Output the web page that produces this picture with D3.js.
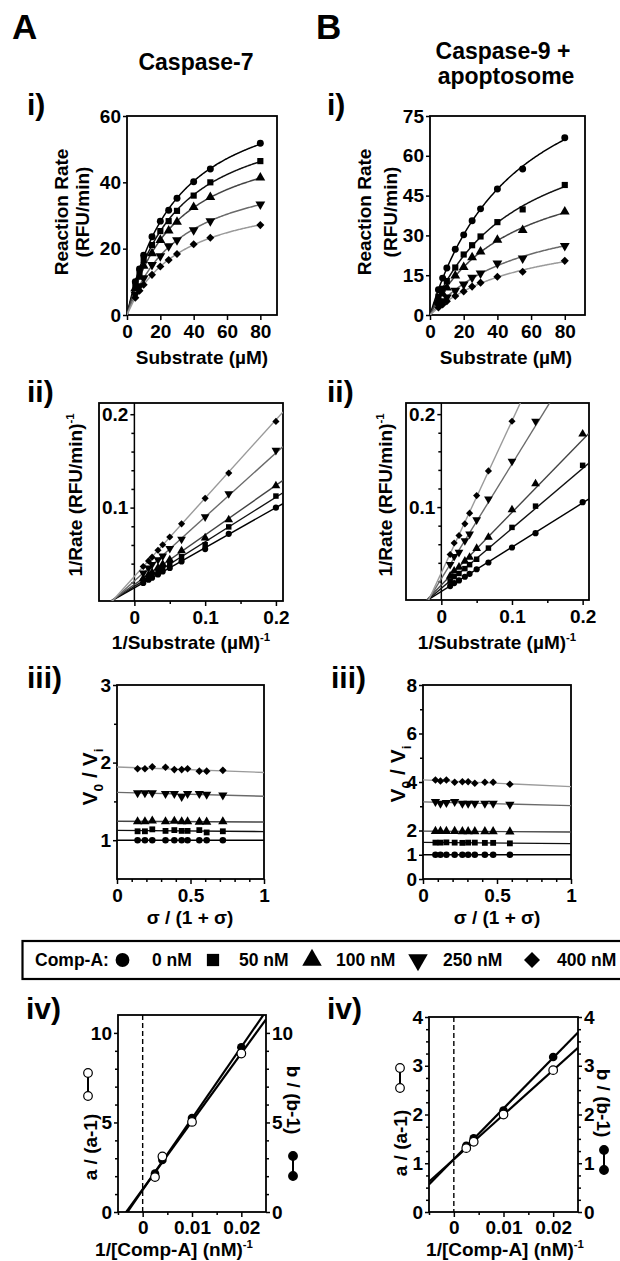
<!DOCTYPE html>
<html><head><meta charset="utf-8">
<script src="https://cdn.jsdelivr.net/npm/d3@7"></script>
<style>
body{margin:0;background:#fff}
svg{display:block}
text{font-family:"Liberation Sans",Arial,Helvetica,sans-serif;font-weight:bold;fill:#000}
</style>
</head><body>
<svg id="c" width="620" height="1261"></svg>
<script>
// ---------------- DATA ----------------
const inhibitorConc = [0, 50, 100, 250, 400];            // nM (legend)
const legendLabels = ["0 nM", "50 nM", "100 nM", "250 nM", "400 nM"];

// Panel A (Caspase-7): substrate (µM) and reaction rates (RFU/min)
const substrateA = [5, 7.5, 10, 15, 20, 25, 30, 40, 50, 80];
const rateA0   = [10.0, 13.9, 18.0, 23.6, 28.3, 31.6, 35.2, 40.2, 44.0, 51.8];
const rateA50  = [8.9, 12.6, 16.6, 21.1, 25.3, 28.3, 31.4, 36.0, 40.0, 46.4];
const rateA100 = [8.1, 11.5, 14.8, 18.6, 22.6, 25.4, 28.1, 32.5, 35.5, 41.4];
const rateA250 = [6.2, 8.7, 11.1, 15.1, 17.8, 20.8, 22.6, 25.6, 28.3, 33.4];
const rateA400 = [5.2, 7.3, 9.1, 12.1, 14.6, 16.6, 18.4, 21.3, 23.3, 27.1];

// Panel B (Caspase-9 + apoptosome)
const substrateB = [5, 7.5, 10, 15, 20, 25, 30, 40, 55, 80];
const rateB0   = [9.5, 13.9, 17.7, 24.8, 30.2, 35.5, 40.0, 47.5, 55.0, 66.8];
const rateB50  = [6.9, 9.9, 12.8, 17.9, 22.8, 26.3, 29.6, 35.0, 39.8, 49.0];
const rateB100 = [5.6, 8.0, 10.3, 14.8, 18.0, 21.7, 23.9, 28.3, 32.0, 38.9];
const rateB250 = [3.6, 5.2, 6.7, 9.2, 11.6, 14.1, 15.7, 19.5, 21.4, 26.1];
const rateB400 = [2.8, 4.0, 5.2, 7.2, 8.9, 10.7, 12.2, 14.4, 16.3, 20.4];

// iii) sigma/(1+sigma) and V0/Vi
const sigmaFracA = [0.14, 0.19, 0.24, 0.33, 0.39, 0.44, 0.48, 0.56, 0.61, 0.72];
const ratioA0   = [1, 1, 1, 1, 1, 1, 1, 1, 1, 1];
const ratioA50  = [1.115, 1.115, 1.14, 1.12, 1.13, 1.12, 1.12, 1.13, 1.10, 1.115];
const ratioA100 = [1.24, 1.24, 1.25, 1.24, 1.245, 1.24, 1.24, 1.235, 1.235, 1.24];
const ratioA250 = [1.61, 1.61, 1.61, 1.60, 1.60, 1.56, 1.60, 1.60, 1.59, 1.58];
const ratioA400 = [1.92, 1.92, 1.945, 1.94, 1.91, 1.91, 1.92, 1.89, 1.89, 1.90];

const sigmaFracB = [0.084, 0.118, 0.158, 0.214, 0.266, 0.305, 0.35, 0.418, 0.474, 0.587];
const ratioB0   = [1, 1, 1, 1, 1, 1, 1, 1, 1, 1];
const ratioB50  = [1.50, 1.50, 1.51, 1.50, 1.49, 1.50, 1.50, 1.49, 1.49, 1.47];
const ratioB100 = [1.97, 1.97, 1.97, 1.97, 1.96, 1.96, 1.96, 1.96, 1.96, 1.95];
const ratioB250 = [3.19, 3.12, 3.15, 3.19, 3.12, 3.12, 3.12, 3.12, 3.12, 3.08];
const ratioB400 = [4.08, 4.04, 4.08, 3.99, 4.01, 4.01, 3.95, 3.99, 3.99, 3.91];

// iv) replots vs 1/[Comp-A]
const compAConc = [400, 250, 100, 50];   // nM
const aRatioA = [1.95, 3.1, 5.03, 8.85];  // a/(a-1), open
const bRatioA = [2.15, 2.9, 5.25, 9.2];   // b/(b-1), filled
const aRatioB = [1.31, 1.44, 2.0, 2.91];
const bRatioB = [1.36, 1.51, 2.08, 3.18];

// tick labels
const ticksAiX = [0, 20, 40, 60, 80], ticksAiY = [0, 20, 40, 60];
const ticksBiX = [0, 20, 40, 60, 80], ticksBiY = [0, 15, 30, 45, 60, 75];
const ticksIIX = [0, 0.1, 0.2], ticksIIY = [0.1, 0.2];
const ticksIIIX = [0, 0.5, 1];
const ticksAiiiY = [1, 2, 3], ticksBiiiY = [0, 1, 2, 4, 6, 8];
const ticksIVX = [0, 0.01, 0.02];
const ticksAivY = [0, 5, 10], ticksBivY = [0, 1, 2, 3, 4];

// ---------------- STYLE ----------------
const lineColors = ["#000", "#111", "#444", "#6a6a6a", "#9a9a9a"];
const svg = d3.select("#c");
let clipN = 0;
const TFS = 19;   // tick font size
const LFS = 19;   // axis title font size

const SYM = [
  {type: d3.symbolCircle, rot: 0, s: 1.0},
  {type: d3.symbolSquare, rot: 0, s: 1.0},
  {type: d3.symbolTriangle, rot: 0, s: 1.1},
  {type: d3.symbolTriangle, rot: 180, s: 1.1},
  {type: d3.symbolSquare, rot: 45, s: 0.85}
];
function marker(g, i, x, y, size) {
  const s = SYM[i];
  g.append("path").attr("d", d3.symbol().type(s.type).size(size * s.s)())
    .attr("transform", `translate(${x},${y}) rotate(${s.rot})`).attr("fill", "#000");
}

function fitMM(S, v) {
  let best = {sse: Infinity};
  for (let K = 1; K <= 400; K += 0.1) {
    let sfv = 0, sff = 0;
    S.forEach((s, i) => { const f = s / (K + s); sfv += f * v[i]; sff += f * f; });
    const V = sfv / sff;
    let sse = 0;
    S.forEach((s, i) => { const r = v[i] - V * s / (K + s); sse += r * r; });
    if (sse < best.sse) best = {sse, K, V};
  }
  return best;
}
function linreg(xs, ys) {
  const mx = d3.mean(xs), my = d3.mean(ys);
  let sxy = 0, sxx = 0;
  xs.forEach((v, i) => { sxy += (v - mx) * (ys[i] - my); sxx += (v - mx) * (v - mx); });
  const b = sxy / sxx;
  return {b, a: my - b * mx};
}

function panel(c) {
  const g = svg.append("g");
  const x = d3.scaleLinear().domain(c.xd).range([c.L, c.R]);
  const y = d3.scaleLinear().domain(c.yd).range([c.B, c.T]);
  const id = "clip" + (clipN++);
  svg.append("clipPath").attr("id", id).append("rect")
    .attr("x", c.L).attr("y", c.T).attr("width", c.R - c.L).attr("height", c.B - c.T);
  const fs = c.fs || TFS;
  const style = (a) => {
    a.select(".domain").remove();
    a.selectAll("line").attr("stroke", "#000").attr("stroke-width", 1.5);
    a.style("font-size", fs + "px").attr("font-family", null);
  };
  const xa = g.append("g").attr("transform", `translate(0,${c.B})`)
    .call(d3.axisBottom(x).tickValues(c.xMajor).tickSize(5).tickPadding(c.xPad || 5).tickFormat(c.xFmt));
  style(xa);
  if (c.xMinor) {
    const xm = g.append("g").attr("transform", `translate(0,${c.B})`)
      .call(d3.axisBottom(x).tickValues(c.xMinor).tickSize(3).tickFormat(""));
    style(xm);
  }
  const yx = c.yAt0 ? x(0) : c.L;
  const ya = g.append("g").attr("transform", `translate(${yx},0)`)
    .call(d3.axisLeft(y).tickValues(c.yMajor).tickSize(4).tickPadding(2).tickFormat(c.yFmt));
  style(ya);
  if (c.yMinor) {
    const ym = g.append("g").attr("transform", `translate(${yx},0)`)
      .call(d3.axisLeft(y).tickValues(c.yMinor).tickSize(3).tickFormat(""));
    style(ym);
  }
  if (c.yAt0) {
    g.append("line").attr("x1", yx).attr("x2", yx).attr("y1", c.T).attr("y2", c.B)
      .attr("stroke", "#000").attr("stroke-width", 1.5);
  }
  if (c.right) {
    const ra = g.append("g").attr("transform", `translate(${c.R},0)`)
      .call(d3.axisRight(y).tickValues(c.yMajor).tickSize(4).tickPadding(2).tickFormat(c.yFmt));
    style(ra);
    if (c.yMinor) {
      const rm = g.append("g").attr("transform", `translate(${c.R},0)`)
        .call(d3.axisRight(y).tickValues(c.yMinor).tickSize(3).tickFormat(""));
      style(rm);
    }
  }
  g.append("rect").attr("x", c.L).attr("y", c.T).attr("width", c.R - c.L).attr("height", c.B - c.T)
    .attr("fill", "none").attr("stroke", "#000").attr("stroke-width", 1.8);
  const plot = g.append("g").attr("clip-path", `url(#${id})`);
  return {g, x, y, plot};
}

function label(x, y, txt, fs, rot, anchor) {
  return svg.append("text").attr("transform", `translate(${x},${y}) rotate(${rot || 0})`)
    .attr("text-anchor", anchor || "middle").attr("dy", "0.35em").style("font-size", fs + "px").text(txt);
}
function supLabel(x, y, main, sup, fs, rot) {
  const t = svg.append("text").attr("transform", `translate(${x},${y}) rotate(${rot || 0})`)
    .attr("text-anchor", "middle").attr("dy", "0.35em").style("font-size", fs + "px");
  t.append("tspan").text(main);
  t.append("tspan").attr("dy", -fs * 0.4).style("font-size", (fs * 0.6) + "px").text(sup);
  return t;
}
function vLabel(x, y, fs) {
  const t = svg.append("text").attr("transform", `translate(${x},${y}) rotate(-90)`)
    .attr("text-anchor", "middle").attr("dy", "0.35em").style("font-size", fs + "px");
  t.append("tspan").text("V");
  t.append("tspan").attr("dy", fs * 0.25).style("font-size", (fs * 0.65) + "px").text("0");
  t.append("tspan").attr("dy", -fs * 0.25).text(" / V");
  t.append("tspan").attr("dy", fs * 0.25).style("font-size", (fs * 0.65) + "px").text("i");
  return t;
}
const fmtInt = d => String(d);
const fmtDec = d => d === 0 ? "0" : String(d);

// ---------------- HEADERS ----------------
label(12, 27, "A", 35, 0, "start");
label(316, 27, "B", 35, 0, "start");
label(196, 62, "Caspase-7", 23);
label(503, 51, "Caspase-9 +", 23);
label(506, 76, "apoptosome", 23);
[["i)", 27, 104], ["ii)", 27, 391], ["iii)", 27, 677], ["iv)", 26, 1008]].forEach(d => label(d[1], d[2], d[0], 30, 0, "start"));
[["i)", 327, 104], ["ii)", 327, 391], ["iii)", 331, 677], ["iv)", 327, 1008]].forEach(d => label(d[1], d[2], d[0], 30, 0, "start"));

// ---------------- i) Michaelis-Menten ----------------
function drawMM(c, S, rates) {
  const p = panel(c);
  rates.forEach((v, k) => {
    const f = fitMM(S, v);
    const curve = d3.range(0, 80.01, 0.5).map(s => [s, f.V * s / (f.K + s)]);
    p.plot.append("path").attr("d", d3.line().x(d => p.x(d[0])).y(d => p.y(d[1]))(curve))
      .attr("fill", "none").attr("stroke", lineColors[k]).attr("stroke-width", 1.5);
  });
  rates.forEach((v, k) => v.forEach((r, j) => marker(p.g, k, p.x(S[j]), p.y(r), 38)));
  return p;
}
const ratesA = [rateA0, rateA50, rateA100, rateA250, rateA400];
const ratesB = [rateB0, rateB50, rateB100, rateB250, rateB400];
drawMM({L: 127, R: 277, T: 116, B: 315, xd: [0, 90], yd: [0, 60], xMajor: ticksAiX, yMajor: ticksAiY, xFmt: fmtInt, yFmt: fmtInt}, substrateA, ratesA);
drawMM({L: 430, R: 585, T: 116, B: 315, xd: [0, 92], yd: [0, 75], xMajor: ticksBiX, yMajor: ticksBiY, xFmt: fmtInt, yFmt: fmtInt}, substrateB, ratesB);
[[61, 82, 212], [364, 390, 212]].forEach(d => {
  label(d[0], d[2], "Reaction  Rate", LFS, -90);
  label(d[1], d[2], "(RFU/min)", LFS, -90);
});
label(202, 357, "Substrate (\u00b5M)", LFS);
label(506, 357, "Substrate (\u00b5M)", LFS);

// ---------------- ii) Lineweaver-Burk ----------------
function drawLB(c, S, rates) {
  const p = panel(c);
  rates.forEach((v, k) => {
    const f = fitMM(S, v);
    const xs = c.xd;
    p.plot.append("line").attr("x1", p.x(xs[0])).attr("x2", p.x(xs[1]))
      .attr("y1", p.y(f.K / f.V * xs[0] + 1 / f.V)).attr("y2", p.y(f.K / f.V * xs[1] + 1 / f.V))
      .attr("stroke", lineColors[k]).attr("stroke-width", 1.4);
  });
  const mg = p.g.append("g").attr("clip-path", p.plot.attr("clip-path"));
  rates.forEach((v, k) => v.forEach((r, j) => marker(mg, k, p.x(1 / S[j]), p.y(1 / r), 30)));
}
const minorIIY = [0.02, 0.04, 0.06, 0.08, 0.12, 0.14, 0.16, 0.18];
drawLB({L: 99, R: 283, T: 403, B: 601, xd: [-0.05, 0.21], yd: [0, 0.212], yAt0: true,
  xMajor: ticksIIX, xMinor: [0.05, 0.15], yMajor: ticksIIY, yMinor: minorIIY,
  xFmt: fmtDec, yFmt: fmtDec}, substrateA, ratesA);
drawLB({L: 406, R: 589, T: 403, B: 600, xd: [-0.05, 0.209], yd: [0, 0.212], yAt0: true,
  xMajor: ticksIIX, xMinor: [0.05, 0.15], yMajor: ticksIIY, yMinor: minorIIY,
  xFmt: fmtDec, yFmt: fmtDec}, substrateB, ratesB);
supLabel(75, 495, "1/Rate  (RFU/min)", "-1", LFS, -90);
supLabel(385, 495, "1/Rate  (RFU/min)", "-1", LFS, -90);
supLabel(191, 642, "1/Substrate (\u00b5M)", "-1", LFS);
supLabel(497, 642, "1/Substrate (\u00b5M)", "-1", LFS);

// ---------------- iii) V0/Vi ----------------
function drawRatio(c, sx, ratios) {
  const p = panel(c);
  ratios.forEach((v, k) => {
    const r = linreg(sx, v);
    p.plot.append("line").attr("x1", p.x(0)).attr("x2", p.x(1))
      .attr("y1", p.y(r.a)).attr("y2", p.y(r.a + r.b))
      .attr("stroke", lineColors[k]).attr("stroke-width", 1.4);
  });
  ratios.forEach((v, k) => v.forEach((r, j) => marker(p.g, k, p.x(sx[j]), p.y(r), 34)));
}
const minorIIIX = [0.1, 0.2, 0.3, 0.4, 0.6, 0.7, 0.8, 0.9];
drawRatio({L: 117, R: 264, T: 685, B: 879, xd: [0, 1], yd: [0.5, 3],
  xMajor: ticksIIIX, xMinor: minorIIIX, yMajor: ticksAiiiY, yMinor: [1.5, 2.5],
  xFmt: fmtDec, yFmt: fmtInt}, sigmaFracA, [ratioA0, ratioA50, ratioA100, ratioA250, ratioA400]);
drawRatio({L: 423, R: 571, T: 685, B: 879, xd: [0, 1], yd: [0, 8],
  xMajor: ticksIIIX, xMinor: minorIIIX, yMajor: ticksBiiiY, yMinor: [3, 5, 7],
  xFmt: fmtDec, yFmt: fmtInt}, sigmaFracB, [ratioB0, ratioB50, ratioB100, ratioB250, ratioB400]);
vLabel(90, 777, 21);
vLabel(398, 774, 21);
label(190, 917, "\u03c3 / (1 + \u03c3)", LFS);
label(497, 917, "\u03c3 / (1 + \u03c3)", LFS);

// ---------------- legend ----------------
svg.append("rect").attr("x", 22.5).attr("y", 941).attr("width", 620).attr("height", 38)
  .attr("fill", "#fff").attr("stroke", "#000").attr("stroke-width", 2.2);
label(35, 960, "Comp-A:", 17.5, 0, "start");
const legMarkX = [122.5, 213, 312, 418, 532], legTextX = [152, 239, 336, 443, 557];
inhibitorConc.forEach((cn, k) => {
  const lg = svg.append("g");
  marker(lg, k, legMarkX[k], 960, 150);
  label(legTextX[k], 960, legendLabels[k], 17.5, 0, "start");
});

// ---------------- iv) replots ----------------
function drawReplot(c, aR, bR) {
  const p = panel(c);
  const xs = compAConc.map(d => 1 / d);
  p.plot.append("line").attr("x1", p.x(0)).attr("x2", p.x(0)).attr("y1", c.T).attr("y2", c.B)
    .attr("stroke", "#000").attr("stroke-width", 1.4).attr("stroke-dasharray", "5,3");
  [aR, bR].forEach(v => {
    const r = linreg(xs, v);
    p.plot.append("line").attr("x1", p.x(c.xd[0])).attr("x2", p.x(c.xd[1]))
      .attr("y1", p.y(r.a + r.b * c.xd[0])).attr("y2", p.y(r.a + r.b * c.xd[1]))
      .attr("stroke", "#000").attr("stroke-width", 2.2);
  });
  bR.forEach((v, j) => p.g.append("circle").attr("cx", p.x(xs[j])).attr("cy", p.y(v)).attr("r", 4.3).attr("fill", "#000"));
  aR.forEach((v, j) => p.g.append("circle").attr("cx", p.x(xs[j])).attr("cy", p.y(v)).attr("r", 4.3)
    .attr("fill", "#fff").attr("stroke", "#000").attr("stroke-width", 1.2));
}
drawReplot({L: 118, R: 266, T: 1015, B: 1212, xd: [-0.005, 0.025], yd: [0, 11], right: true, xPad: 4,
  xMajor: ticksIVX, xMinor: [-0.005, 0.005, 0.015], yMajor: ticksAivY, yMinor: [1, 2, 3, 4, 6, 7, 8, 9],
  xFmt: fmtDec, yFmt: fmtInt}, aRatioA, bRatioA);
drawReplot({L: 429, R: 578, T: 1017, B: 1212, xd: [-0.005, 0.025], yd: [0, 4], right: true, xPad: 4,
  xMajor: ticksIVX, xMinor: [-0.005, 0.005, 0.015], yMajor: ticksBivY, yMinor: d3.range(0.25, 4, 0.25).filter(v => v % 1 !== 0),
  xFmt: fmtDec, yFmt: fmtInt}, aRatioB, bRatioB);
function dumbbell(x, y1, y2, open) {
  svg.append("line").attr("x1", x).attr("x2", x).attr("y1", y1).attr("y2", y2).attr("stroke", "#000").attr("stroke-width", 2);
  [y1, y2].forEach(yy => svg.append("circle").attr("cx", x).attr("cy", yy).attr("r", 4.3)
    .attr("fill", open ? "#fff" : "#000").attr("stroke", "#000").attr("stroke-width", 1.2));
}
label(90, 1147, "a / (a-1)", LFS, -90);
label(294, 1100, "b / (b-1)", LFS, 90);
dumbbell(88, 1073, 1096, true);
dumbbell(293, 1156, 1176, false);
label(400, 1143, "a / (a-1)", LFS, -90);
label(604, 1103, "b / (b-1)", LFS, 90);
dumbbell(400, 1068, 1088, true);
dumbbell(604, 1150, 1170, false);
supLabel(174, 1249, "1/[Comp-A] (nM)", "-1", LFS);
supLabel(505, 1249, "1/[Comp-A] (nM)", "-1", LFS);
</script>
</body></html>
